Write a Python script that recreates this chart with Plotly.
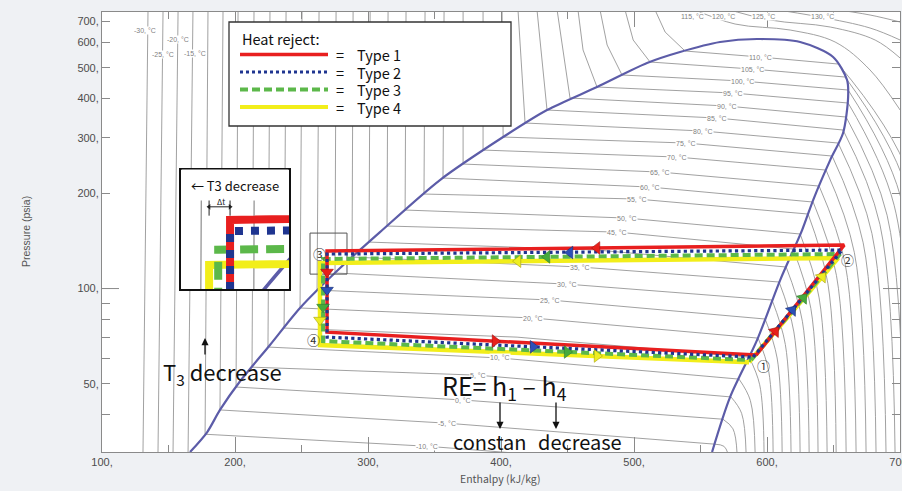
import numpy as np
import plotly.graph_objects as go

# ---------------- axes ----------------
H_RANGE = [100, 700]
P_RANGE = [30.4, 750]
X_TICKS = [100, 200, 300, 400, 500, 600, 700]
X_TICK_TEXT = ["100,", "200,", "300,", "400,", "500,", "600,", "700,"]
X_MINOR = [150, 250, 350, 450, 550, 650]
Y_TICKS = [50, 100, 200, 300, 400, 500, 600, 700]
Y_TICK_TEXT = ["50,", "100,", "200,", "300,", "400,", "500,", "600,", "700,"]
Y_MINOR = [40, 60, 70, 80, 90]
P_TOP_EXT = 760
P_BOT_EXT = 30.0

# ---------------- saturation dome ----------------
DOME_H = [166.2, 179.0, 188.7, 203.8, 226.3, 248.9, 279.0, 309.0, 354.1, 401.6, 434.6, 472.2,
          509.8, 534.6, 564.7, 592.5, 624.9, 649.7, 660.2, 661.0, 657.2, 647.5, 634.7, 626.4,
          609.9, 592.5, 572.3, 558.7]
DOME_P = [30.4, 35.1, 41.3, 50.9, 66.3, 86.8, 116.1, 150.9, 220.5, 301.6, 367.2, 434.2,
          517.2, 560.3, 602.6, 616.0, 602.6, 540.3, 456.9, 403.6, 310.5, 255.0, 190.6, 153.1,
          106.4, 68.7, 45.4, 30.4]

# ---------------- isotherms (deg C) ----------------
COLD_T = [-30, -25, -20, -15]
COLD_H_TOP = [134.6, 145.9, 157.2, 168.4]
COLD_H_BOT = [130.8, 142.1, 153.4, 164.7]
COLD_LAB_H = [132.3, 145.9, 157.2, 169.9]
COLD_LAB_P = [657.7, 552.2, 616.0, 556.2]

ISO_T = [-10, -5, 0, 5, 10, 15, 20, 25, 30, 35, 40, 45, 50, 55, 60, 65, 70, 75, 80, 85, 90, 95, 100, 105, 110]
ISO_H_TOP = [179.7, 191.0, 202.3, 214.3, 226.3, 238.4, 250.4, 263.2, 276.0, 288.8, 301.6, 315.1, 328.6,
             342.9, 357.2, 371.5, 386.5, 400.8, 412.8, 427.1, 442.2, 457.9, 474.5, 493.3, 515.9]
ISO_H_BEND = [None] * 21 + [461.7, 479.8, 499.4, 523.4]
ISO_P_BEND = [None] * 21 + [568.5, 589.6, 611.5, 648.2]
ISO_H_LIQ = [177.5, 188.7, 200.8, 212.8, 224.8, 236.9, 248.9, 261.7, 275.2, 288.0, 300.8, 314.3, 327.9,
             342.1, 356.4, 371.5, 386.5, 401.6, 418.1, 434.6, 451.9, 472.2, 491.0, 512.1, 538.4]
ISO_P_LIQ = [34.6, 41.3, 48.8, 56.4, 65.3, 75.0, 86.8, 98.9, 112.0, 125.8, 140.3, 157.7, 177.2,
             199.1, 223.7, 247.7, 274.3, 301.6, 334.0, 367.2, 400.7, 434.2, 473.9, 520.9, 564.4]
ISO_H_LAB = [344.4, 359.4, 371.5, 382.8, 399.3, 412.1, 424.1, 436.9, 449.7, 459.5, 472.2, 487.3, 494.8,
             502.3, 512.1, 519.6, 532.4, 539.2, 551.9, 562.5, 570.0, 574.5, 581.3, 588.8, 594.8]
ISO_P_LAB = [31.7, 37.5, 44.4, 53.2, 60.3, 70.2, 80.7, 92.0, 103.3, 117.0, 132.4, 150.9, 167.1,
             192.0, 209.5, 233.7, 260.7, 288.7, 315.1, 346.4, 378.0, 415.6, 453.6, 495.0, 540.3]
ISO_LAB_SHOW = [True, True, True, True, True, False, True, True, True, True, False, True, True,
                True, True, True, True, True, True, True, True, True, True, True, True]
ISO_H_VAP = [409.1, 560.2, 566.9, 572.9, 579.0, 586.5, 593.3, 598.6, 603.8, 609.1, 614.4, 619.6, 624.9,
             630.9, 634.7, 639.2, 644.4, 649.0, 653.5, 657.2, 659.5, 661.0, 661.0, 658.7, 653.5]
ISO_P_VAP = [30.2, 32.2, 38.6, 45.4, 51.7, 60.7, 69.7, 80.1, 92.0, 104.9, 117.0, 133.4, 148.8,
             172.1, 187.8, 211.0, 237.1, 262.6, 288.7, 317.4, 348.9, 386.4, 424.8, 467.0, 513.4]
ISO_H_MID = [None, 567.6, 574.4, 580.9, 587.5, 594.5, 601.3, 607.6, 613.8, 620.2, 626.6, 633.0, 639.2,
             645.8, 652.2, 658.8, 665.7, 672.3, 678.9, 684.9, 690.3, 695.6, 700.3, 704.5, 707.6]
ISO_P_MID = [None, 31.7, 36.0, 40.3, 44.2, 49.6, 54.7, 60.3, 66.5, 72.9, 78.8, 86.4, 93.4,
             103.6, 110.1, 119.6, 129.9, 139.6, 149.3, 159.6, 170.6, 183.4, 196.1, 209.7, 224.2]
ISO_H_END = [None, 570.8, 577.5, 584.3, 591.1, 597.8, 604.6, 611.4, 618.1, 624.9, 631.7, 638.4, 645.2,
             652.0, 659.5, 667.0, 674.5, 682.0, 689.5, 696.3, 703.1, 709.9, 716.6, 723.4, 730.2]

ISO115_H = [542.2, 576.0, 617.4, 651.2, 677.5, 700.1]
ISO115_P = [772.1, 687.1, 657.7, 602.7, 491.4, 367.2]
ISO120_H = [567.0, 602.3, 647.5, 681.3, 700.1]
ISO120_P = [772.1, 707.4, 672.3, 611.5, 536.3]
ISO125_H = [598.6, 639.9, 677.5, 700.1]
ISO125_P = [772.1, 723.1, 667.4, 611.5]
ISO130_H = [643.7, 677.5, 700.1]
ISO130_P = [772.1, 733.7, 697.2]
SUPER_T = [115, 120, 125, 130]
SUPER_LAB_H = [543.7, 567.0, 597.1, 641.4]
SUPER_LAB_P = [728.4, 728.4, 728.4, 728.4]

# ---------------- refrigeration cycles (state points 1-4) ----------------
TYPE_NAMES = ["Type 1", "Type 2", "Type 3", "Type 4"]
H1 = [591.8, 589.6, 588.0, 586.5]
P1 = [61.6, 60.7, 59.4, 58.5]
H2 = [658.0, 656.5, 655.0, 653.5]
P2 = [137.3, 132.4, 128.6, 124.9]
H3 = [269.2, 269.2, 266.2, 263.9]
P3 = [131.4, 128.6, 124.0, 120.4]
H4 = [269.2, 269.2, 266.2, 263.9]
P4 = [72.8, 70.2, 68.2, 66.3]

# direction arrows on each process
ARR_COND_H = [472.2, 451.9, 434.6, 412.8]
ARR_COND_P = [134.4, 130.0, 126.0, 122.1]
ARR_EXP_H = [269.2, 269.2, 266.2, 263.9]
ARR_EXP_P = [112.8, 98.9, 87.4, 79.5]
ARR_EVAP_H = [395.5, 424.1, 449.7, 472.2]
ARR_EVAP_P = [68.2, 65.4, 63.0, 61.2]
ARR_COMP_H = [606.1, 618.9, 627.2, 641.4]
ARR_COMP_P = [73.2, 85.4, 93.3, 108.9]

# zoom box round state 3, inset range, delta-t bracket
BOX3_H = [256.4, 284.2, 284.2, 256.4, 256.4]
BOX3_P = [149.8, 149.8, 111.1, 111.1, 149.8]
INSET_H_RANGE = [256.8, 284.1]
INSET_P_RANGE = [114.9, 144.8]
DT_P = 134.8
DT_TICK_P = [137.6, 132.5]

# ---------------- styles ----------------
LINE_COLORS = ["#e81f1f", "#1f3590", "#5cb84a", "#f2ee1a"]
ARROW_COLORS = ["#e8201a", "#2c50b8", "#45aa3c", "#eeee22"]
ARROW_EDGE = ["#a01010", "#1a2f70", "#2f7a2a", "#a8a010"]
MAIN_W = [3.5, 3.2, 4, 4.5]
MAIN_DASH = ["solid", "dot", "8px,4px", "solid"]
INSET_W = [8, 8, 8, 8]
INSET_DASH = ["solid", "dot", "18px,8px", "solid"]
DRAW_ORDER = [3, 2, 0, 1]
ISO_COLOR = "#969696"
DOME_COLOR = "#5c5ca8"
TXT_FONT = "Noto Sans CJK KR"
PAPER = "#eff1f4"

L, R, T, B = 102, 2, 12, 39
PW, PH = 902 - L - R, 491 - T - B


def pp(x, y):
    return (x - L) / PW, (T + PH - y) / PH


# ---------------- build isotherm polylines ----------------
lin_h, lin_p, arc_h, arc_p = [], [], [], []
for ht, hb in zip(COLD_H_TOP, COLD_H_BOT):
    lin_h += [ht, hb, None]
    lin_p += [P_TOP_EXT, P_BOT_EXT, None]
for i in range(len(ISO_T)):
    hs, ps = [ISO_H_TOP[i]], [P_TOP_EXT]
    if ISO_H_BEND[i] is not None:
        hs.append(ISO_H_BEND[i]); ps.append(ISO_P_BEND[i])
    hs += [ISO_H_LIQ[i], ISO_H_LAB[i], ISO_H_VAP[i]]
    ps += [ISO_P_LIQ[i], ISO_P_LAB[i], ISO_P_VAP[i]]
    lin_h += hs + [None]
    lin_p += ps + [None]
    if ISO_H_MID[i] is not None:
        arc_h += [ISO_H_VAP[i], ISO_H_MID[i], ISO_H_END[i], None]
        arc_p += [ISO_P_VAP[i], ISO_P_MID[i], P_BOT_EXT, None]
for hh, pq in [(ISO115_H, ISO115_P), (ISO120_H, ISO120_P), (ISO125_H, ISO125_P), (ISO130_H, ISO130_P)]:
    arc_h += hh + [None]
    arc_p += pq + [None]

fig = go.Figure()


def add_background(xa, ya, iso_w, dome_w):
    fig.add_trace(go.Scatter(x=lin_h, y=lin_p, mode="lines", xaxis=xa, yaxis=ya,
                             line=dict(color=ISO_COLOR, width=iso_w), hoverinfo="skip"))
    fig.add_trace(go.Scatter(x=arc_h, y=arc_p, mode="lines", xaxis=xa, yaxis=ya,
                             line=dict(color=ISO_COLOR, width=iso_w, shape="spline"), hoverinfo="skip"))
    fig.add_trace(go.Scatter(x=DOME_H, y=DOME_P, mode="lines", xaxis=xa, yaxis=ya,
                             line=dict(color=DOME_COLOR, width=dome_w, shape="spline", smoothing=0.8),
                             hoverinfo="skip"))


def add_cycles(xa, ya, widths, dashes):
    for k in DRAW_ORDER:
        fig.add_trace(go.Scatter(
            x=[H1[k], H2[k], H3[k], H4[k], H1[k]],
            y=[P1[k], P2[k], P3[k], P4[k], P1[k]],
            mode="lines", xaxis=xa, yaxis=ya, name=TYPE_NAMES[k],
            line=dict(color=LINE_COLORS[k], width=widths[k], dash=dashes[k]),
            hoverinfo="skip"))


# main chart
add_background("x", "y", 0.9, 2.2)
fig.add_trace(go.Scatter(x=BOX3_H, y=BOX3_P, mode="lines", line=dict(color="#555", width=1), hoverinfo="skip"))
add_cycles("x", "y", MAIN_W, MAIN_DASH)
for k in DRAW_ORDER:
    for hh, pq, sym, ang in [(ARR_COND_H, ARR_COND_P, "triangle-left", 0),
                             (ARR_EXP_H, ARR_EXP_P, "triangle-down", 0),
                             (ARR_EVAP_H, ARR_EVAP_P, "triangle-right", 0),
                             (ARR_COMP_H, ARR_COMP_P, "triangle-up", 39)]:
        fig.add_trace(go.Scatter(x=[hh[k]], y=[pq[k]], mode="markers", hoverinfo="skip",
                                 marker=dict(symbol=sym, angle=ang, size=11, color=ARROW_COLORS[k],
                                             line=dict(color=ARROW_EDGE[k], width=0.6))))

# inset (magnified view round state 3)
add_background("x2", "y2", 1.3, 3.5)
add_cycles("x2", "y2", INSET_W, INSET_DASH)
fig.add_trace(go.Scatter(x=[H3[3], H3[0]], y=[DT_P, DT_P], mode="lines+markers", xaxis="x2", yaxis="y2",
                         line=dict(color="#222", width=1), hoverinfo="skip",
                         marker=dict(symbol=["triangle-left", "triangle-right"], size=5, color="#222")))
fig.add_trace(go.Scatter(x=[H3[3], H3[3], None, H3[0], H3[0]],
                         y=[DT_TICK_P[0], DT_TICK_P[1], None, DT_TICK_P[0], DT_TICK_P[1]],
                         mode="lines", xaxis="x2", yaxis="y2", line=dict(color="#222", width=1),
                         hoverinfo="skip"))

# ---------------- annotations ----------------
ann = []
lab_font = dict(family="Liberation Sans", size=7, color="#7f7f7f")
for t, h, p in zip(COLD_T, COLD_LAB_H, COLD_LAB_P):
    ann.append(dict(x=h, y=np.log10(p), xref="x", yref="y", text=f"{t}, °C", showarrow=False,
                    font=lab_font, bgcolor="white", borderpad=0))
for t, h, p, s in zip(ISO_T, ISO_H_LAB, ISO_P_LAB, ISO_LAB_SHOW):
    if s:
        ann.append(dict(x=h, y=np.log10(p), xref="x", yref="y", text=f"{t}, °C", showarrow=False,
                        font=lab_font, bgcolor="white", borderpad=0))
for t, h, p in zip(SUPER_T, SUPER_LAB_H, SUPER_LAB_P):
    ann.append(dict(x=h, y=np.log10(p), xref="x", yref="y", text=f"{t}, °C", showarrow=False,
                    font=lab_font, bgcolor="white", borderpad=0))

# state numbers
for txt_, h, p in [("①", 597.1, 56.9), ("②", 660.2, 124.0), ("③", 263.2, 129.5), ("④", 258.7, 69.2)]:
    ann.append(dict(x=h, y=np.log10(p), xref="x", yref="y", text=txt_, showarrow=False,
                    font=dict(family=TXT_FONT, size=13, color="#333")))


def txt(x, y, s, size, anchor="center", color="#111", **kw):
    px_, py_ = pp(x, y)
    d = dict(x=px_, y=py_, xref="paper", yref="paper", text=s, showarrow=False, xanchor=anchor,
             yanchor="middle", font=dict(family=TXT_FONT, size=size, color=color))
    d.update(kw)
    ann.append(d)


def arrow(x, y, ax, ay):
    px_, py_ = pp(x, y)
    ann.append(dict(x=px_, y=py_, xref="paper", yref="paper", text="", showarrow=True, ax=ax, ay=ay,
                    arrowhead=2, arrowsize=1.1, arrowwidth=1.3, arrowcolor="#111"))


# legend
txt(240, 38, "Heat reject:", 14.5, anchor="left")
for k, yy in enumerate([54.5, 72, 89.5, 107]):
    txt(340, yy, "=", 14.5)
    txt(355, yy, TYPE_NAMES[k], 14.5, anchor="left")

# callouts
txt(235, 185, "← T3 decrease", 13, width=104, height=28, bgcolor="white")
txt(221, 201, "Δt", 8)
txt(222, 372, "T<sub>3</sub> decrease", 22)
arrow(205, 338, 0, 18)
txt(504, 386, "RE= h<sub>1</sub> – h<sub>4</sub>", 25)
arrow(500, 429, 0, -28)
arrow(556, 429, 0, -28)
txt(489, 441, "constan", 20)
txt(580, 441, "decrease", 20)

# axis titles
txt(500, 478, "Enthalpy (kJ/kg)", 10.5, color="#555")
px_, py_ = pp(18, 232)
ann.append(dict(x=px_, y=py_, xref="paper", yref="paper", text="Pressure (psia)", showarrow=False,
                textangle=-90, font=dict(family="Liberation Sans", size=10.5, color="#555")))

# ---------------- shapes ----------------
shapes = []
x0, y0 = pp(229, 126)
x1, y1 = pp(511, 22)
shapes.append(dict(type="rect", xref="paper", yref="paper", x0=x0, y0=y0, x1=x1, y1=y1,
                   fillcolor="white", line=dict(color="#333", width=1.3), layer="above"))
for k, yy in enumerate([54.5, 72, 89.5, 107]):
    a0, b0 = pp(240, yy)
    a1, _ = pp(328, yy)
    shapes.append(dict(type="line", xref="paper", yref="paper", x0=a0, y0=b0, x1=a1, y1=b0,
                       line=dict(color=LINE_COLORS[k], width=[3.5, 3, 4, 4][k], dash=MAIN_DASH[k]),
                       layer="above"))
# long decade tick at 100 psia (both sides)
shapes.append(dict(type="line", xref="paper", yref="y", x0=0, x1=17 / PW, y0=100, y1=100,
                   line=dict(color="#8a8a8a", width=1)))
shapes.append(dict(type="line", xref="paper", yref="y", x0=1 - 17 / PW, x1=1, y0=100, y1=100,
                   line=dict(color="#8a8a8a", width=1)))

axis_common = dict(showgrid=False, zeroline=False, ticks="inside", tickcolor="#8a8a8a", tickwidth=1,
                   showline=True, linecolor="#8a8a8a", linewidth=1, mirror="ticks", automargin=False,
                   ticklabeloverflow="allow",
                   tickfont=dict(family="Liberation Sans", size=11, color="#4d4d4d"))
ix0, iy0 = pp(181, 289)
ix1, iy1 = pp(289, 170)
fig.update_layout(
    width=902, height=491, margin=dict(l=L, r=R, t=T, b=B, autoexpand=False),
    paper_bgcolor=PAPER, plot_bgcolor="white", showlegend=False,
    xaxis=dict(range=H_RANGE, tickvals=X_TICKS, ticktext=X_TICK_TEXT, ticklen=15,
               minor=dict(tickvals=X_MINOR, ticks="inside", ticklen=7, tickcolor="#8a8a8a"),
               domain=[0, 1], **axis_common),
    yaxis=dict(type="log", range=[np.log10(P_RANGE[0]), np.log10(P_RANGE[1])], tickvals=Y_TICKS,
               ticktext=Y_TICK_TEXT, ticklen=8,
               minor=dict(tickvals=Y_MINOR, ticks="inside", ticklen=8, tickcolor="#8a8a8a"),
               domain=[0, 1], **axis_common),
    xaxis2=dict(domain=[ix0, ix1], anchor="y2", range=INSET_H_RANGE, showticklabels=False, ticks="",
                showline=True, linecolor="#111", linewidth=2, mirror=True, showgrid=False, zeroline=False,
                automargin=False),
    yaxis2=dict(domain=[iy0, iy1], anchor="x2", type="log",
                range=[np.log10(INSET_P_RANGE[0]), np.log10(INSET_P_RANGE[1])], showticklabels=False,
                ticks="", showline=True, linecolor="#111", linewidth=2, mirror=True, showgrid=False,
                zeroline=False, automargin=False),
    annotations=ann, shapes=shapes,
)

fig.write_html("out.html", config={"displayModeBar": False},
               post_script="document.body.style.margin='0';document.body.style.background='%s';" % PAPER)
